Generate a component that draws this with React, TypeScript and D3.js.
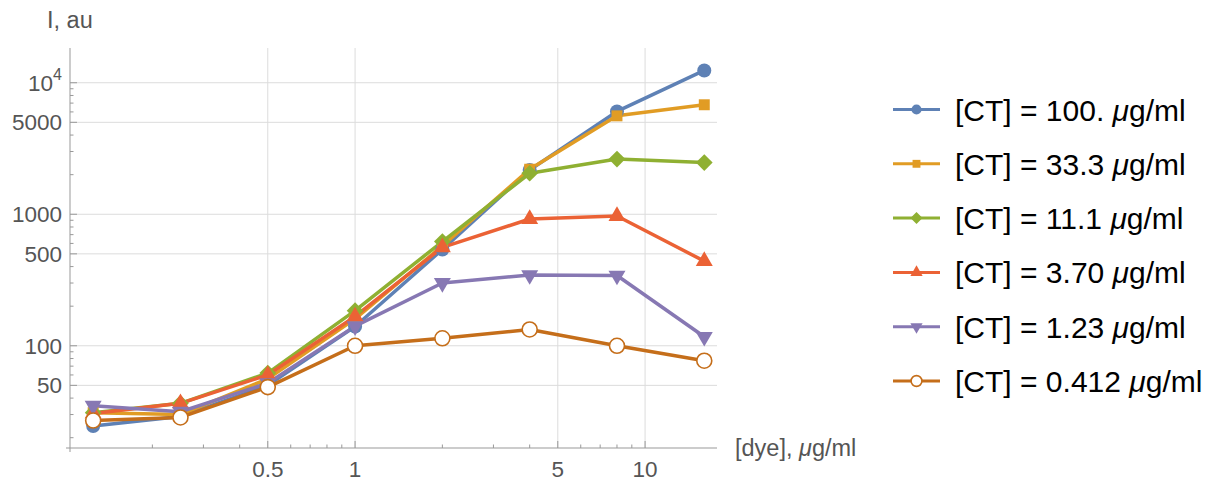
import React from "react";
import * as d3 from "d3";

const dye = [0.125, 0.25, 0.5, 1, 2, 4, 8, 16];
const ct100 = [24.5, 29, 50, 140, 540, 2170, 6050, 12400];
const ct33 = [31, 30, 56, 160, 575, 2200, 5600, 6800];
const ct11 = [31, 36.5, 62, 185, 620, 2050, 2630, 2470];
const ct37 = [30.5, 36.5, 60, 167, 560, 920, 970, 440];
const ct123 = [35, 31.5, 52, 141, 300, 345, 342, 117];
const ct0412 = [27, 28.5, 48.5, 100, 114, 133, 100, 77];

const seriesNames = ["100.", "33.3", "11.1", "3.70", "1.23", "0.412"];
const seriesValues = [ct100, ct33, ct11, ct37, ct123, ct0412];
const colors = ["#5E81B5", "#E19C24", "#8FB032", "#EB6235", "#8778B3", "#C56E1A"];
const markers = ["circle", "square", "diamond", "up", "down", "open"];

const xMajor = [0.5, 1, 5, 10];
const xMajorLabels = ["0.5", "1", "5", "10"];
const yMajor = [50, 100, 500, 1000, 5000, 10000];
const yMajorLabels = ["50", "100", "500", "1000", "5000", "10^4"];

const W = 1219, H = 485;
const L = 70, R = 717, T = 48, B = 448;

function Marker({ kind, color, x, y, s }: { kind: string; color: string; x: number; y: number; s: number }) {
  if (kind === "circle") return <circle cx={x} cy={y} r={7 * s} fill={color} />;
  if (kind === "open")
    return <circle cx={x} cy={y} r={7.5 * s} fill="white" stroke={color} strokeWidth={1.6} />;
  let path: string | null = null;
  let rot = 0;
  if (kind === "square") path = d3.symbol(d3.symbolSquare, 120 * s * s)();
  if (kind === "diamond") { path = d3.symbol(d3.symbolSquare, 140 * s * s)(); rot = 45; }
  if (kind === "up") path = d3.symbol(d3.symbolTriangle, 125 * s * s)();
  if (kind === "down") { path = d3.symbol(d3.symbolTriangle, 125 * s * s)(); rot = 180; }
  return <path d={path || ""} transform={`translate(${x},${y}) rotate(${rot})`} fill={color} />;
}

export default function App() {
  const x = d3.scaleLog().domain([0.104, 17.7]).range([L, R]);
  const y = d3.scaleLog().domain([16.7, 18370]).range([B, T]);
  const line = d3.line<number>().x((_, i) => x(dye[i])).y((v) => y(v));

  const xMinor: number[] = [];
  [0.1, 1, 10].forEach((d) => {
    for (let k = 1; k <= 9; k++) {
      const v = d * k;
      if (v >= x.domain()[0] && v <= x.domain()[1] && !xMajor.some((m) => Math.abs(m - v) < 1e-9)) xMinor.push(v);
    }
  });
  const yMinor: number[] = [];
  [10, 100, 1000, 10000].forEach((d) => {
    for (let k = 1; k <= 9; k++) {
      const v = d * k;
      if (v >= y.domain()[0] && v <= y.domain()[1] && !yMajor.some((m) => Math.abs(m - v) < 1e-9)) yMinor.push(v);
    }
  });

  const tickColor = "#555";
  const axisColor = "#999";
  const gridColor = "#dcdcdc";
  const font = "'Liberation Sans', Arial, sans-serif";

  return (
    <svg width={W} height={H} style={{ position: "absolute", left: 0, top: 0, background: "white" }} fontFamily={font}>
      {xMajor.map((v) => (
        <line key={"gx" + v} x1={x(v)} x2={x(v)} y1={T} y2={B} stroke={gridColor} strokeWidth={1} />
      ))}
      {yMajor.map((v) => (
        <line key={"gy" + v} x1={L} x2={R} y1={y(v)} y2={y(v)} stroke={gridColor} strokeWidth={1} />
      ))}
      <line x1={L - 4} x2={R} y1={B} y2={B} stroke={axisColor} strokeWidth={1} />
      <line x1={L} x2={L} y1={T} y2={B + 4} stroke={axisColor} strokeWidth={1} />
      {xMajor.map((v) => (
        <line key={"xt" + v} x1={x(v)} x2={x(v)} y1={B} y2={B - 7} stroke={axisColor} />
      ))}
      {xMinor.map((v) => (
        <line key={"xm" + v} x1={x(v)} x2={x(v)} y1={B} y2={B - 3.5} stroke={axisColor} />
      ))}
      {yMajor.map((v) => (
        <line key={"yt" + v} x1={L} x2={L + 7} y1={y(v)} y2={y(v)} stroke={axisColor} />
      ))}
      {yMinor.map((v) => (
        <line key={"ym" + v} x1={L} x2={L + 3.5} y1={y(v)} y2={y(v)} stroke={axisColor} />
      ))}
      {xMajor.map((v, i) => (
        <text key={"xl" + v} x={x(v)} y={B + 29} textAnchor="middle" fontSize={22.5} fill={tickColor}>
          {xMajorLabels[i]}
        </text>
      ))}
      {yMajor.map((v, i) => {
        const lab = yMajorLabels[i];
        if (lab.includes("^")) {
          const [b, e] = lab.split("^");
          return (
            <text key={"yl" + v} x={L - 8} y={y(v) + 8} textAnchor="end" fontSize={22.5} fill={tickColor}>
              {b}
              <tspan fontSize={16} dy={-11}>{e}</tspan>
            </text>
          );
        }
        return (
          <text key={"yl" + v} x={L - 8} y={y(v) + 8} textAnchor="end" fontSize={22.5} fill={tickColor}>
            {lab}
          </text>
        );
      })}
      <text x={47} y={28} fontSize={23.5} fill={tickColor}>I, au</text>
      <text x={735} y={456} fontSize={23.5} fill={tickColor}>
        [dye], <tspan fontStyle="italic">μ</tspan>g/ml
      </text>
      {seriesValues.map((vals, si) => (
        <path key={"l" + si} d={line(vals) || ""} fill="none" stroke={colors[si]} strokeWidth={3.5} strokeLinejoin="round" />
      ))}
      {seriesValues.map((vals, si) => (
        <g key={"m" + si}>
          {vals.map((v, i) => (
            <Marker key={i} kind={markers[si]} color={colors[si]} x={x(dye[i])} y={y(v)} s={1} />
          ))}
        </g>
      ))}
      {seriesNames.map((n, si) => {
        const ly = 109.5 + si * 54.3;
        return (
          <g key={"lg" + si}>
            <line x1={893} x2={940} y1={ly} y2={ly} stroke={colors[si]} strokeWidth={3} />
            <Marker kind={markers[si]} color={colors[si]} x={916.5} y={ly} s={0.72} />
            <text x={955} y={ly + 11} fontSize={30} fill="#000">
              [CT] = {n} <tspan fontStyle="italic">μ</tspan>g/ml
            </text>
          </g>
        );
      })}
    </svg>
  );
}
